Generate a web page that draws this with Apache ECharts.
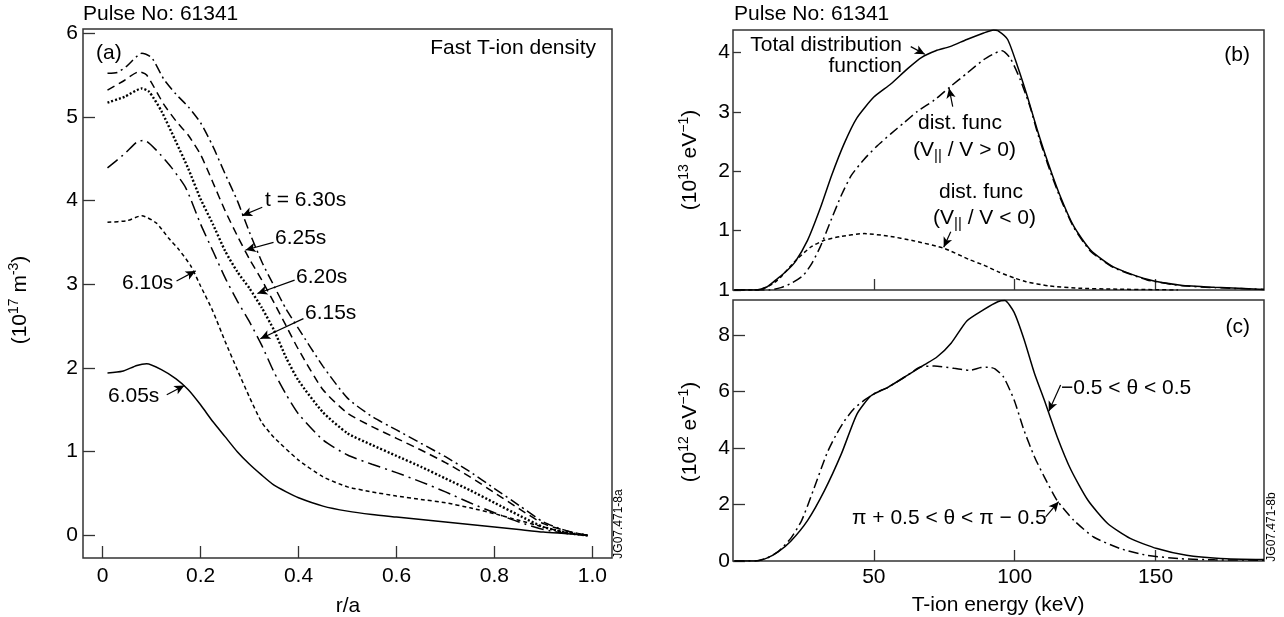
<!DOCTYPE html>
<html><head><meta charset="utf-8">
<script src="https://cdn.jsdelivr.net/npm/echarts@6/dist/echarts.min.js"></script>
<style>html,body{margin:0;padding:0;background:#fff}#c{width:1284px;height:617px}</style>
</head><body><div id="c"></div>
<script>
// ---------- DATA ----------
// Panel (a): fast T-ion density (10^17 m^-3) vs r/a
const t605 = [[0.01,1.94],[0.04,1.96],[0.07,2.03],[0.09,2.05],[0.12,1.98],[0.15,1.87],[0.175,1.74],[0.2,1.56],[0.225,1.36],[0.25,1.18],[0.275,1.0],[0.3,0.85],[0.325,0.72],[0.35,0.6],[0.375,0.52],[0.4,0.45],[0.45,0.35],[0.5,0.29],[0.55,0.25],[0.6,0.22],[0.65,0.19],[0.7,0.16],[0.75,0.13],[0.8,0.1],[0.85,0.07],[0.9,0.04],[0.95,0.02],[0.99,0.0]];
const t610 = [[0.01,3.74],[0.05,3.76],[0.08,3.82],[0.11,3.73],[0.135,3.55],[0.155,3.42],[0.18,3.22],[0.2,2.98],[0.225,2.68],[0.25,2.32],[0.275,1.98],[0.3,1.65],[0.325,1.35],[0.35,1.17],[0.4,0.9],[0.45,0.7],[0.5,0.58],[0.55,0.52],[0.6,0.47],[0.65,0.43],[0.7,0.39],[0.75,0.33],[0.8,0.26],[0.85,0.18],[0.9,0.1],[0.95,0.03],[0.99,0.0]];
const t615 = [[0.01,4.39],[0.045,4.56],[0.07,4.7],[0.085,4.72],[0.11,4.6],[0.14,4.4],[0.17,4.15],[0.2,3.72],[0.225,3.4],[0.25,3.08],[0.275,2.8],[0.3,2.55],[0.325,2.27],[0.35,1.95],[0.375,1.68],[0.4,1.45],[0.45,1.14],[0.5,0.96],[0.55,0.85],[0.6,0.75],[0.65,0.64],[0.7,0.52],[0.75,0.39],[0.8,0.27],[0.85,0.16],[0.9,0.07],[0.95,0.02],[0.99,0.0]];
const t620 = [[0.01,5.17],[0.045,5.24],[0.08,5.34],[0.095,5.3],[0.12,5.07],[0.15,4.7],[0.175,4.38],[0.2,4.02],[0.225,3.72],[0.25,3.4],[0.275,3.15],[0.3,2.95],[0.325,2.72],[0.35,2.45],[0.375,2.12],[0.4,1.85],[0.45,1.47],[0.5,1.22],[0.55,1.08],[0.6,0.95],[0.65,0.82],[0.7,0.68],[0.75,0.54],[0.8,0.39],[0.85,0.24],[0.9,0.1],[0.95,0.03],[0.99,0.0]];
const t625 = [[0.01,5.32],[0.04,5.42],[0.075,5.54],[0.09,5.5],[0.125,5.15],[0.15,4.95],[0.175,4.78],[0.2,4.55],[0.225,4.22],[0.25,3.88],[0.275,3.58],[0.3,3.3],[0.325,3.05],[0.35,2.78],[0.375,2.5],[0.4,2.22],[0.45,1.74],[0.5,1.46],[0.55,1.3],[0.6,1.16],[0.65,1.02],[0.7,0.87],[0.75,0.7],[0.8,0.51],[0.85,0.32],[0.9,0.14],[0.95,0.05],[0.99,0.0]];
const t630 = [[0.01,5.52],[0.03,5.53],[0.05,5.61],[0.08,5.76],[0.1,5.71],[0.125,5.45],[0.15,5.27],[0.175,5.12],[0.2,4.93],[0.225,4.65],[0.25,4.32],[0.275,4.0],[0.3,3.62],[0.325,3.27],[0.35,2.98],[0.375,2.7],[0.4,2.47],[0.45,2.02],[0.5,1.64],[0.55,1.42],[0.6,1.26],[0.65,1.1],[0.7,0.94],[0.75,0.76],[0.8,0.56],[0.85,0.36],[0.9,0.16],[0.95,0.05],[0.99,0.0]];

// Panel (b): distribution functions (10^13 eV^-1) vs T-ion energy (keV)
const bTotal = [[0.5,0],[8,0],[12,0.05],[16,0.2],[19,0.32],[22,0.47],[26.5,0.84],[31,1.38],[35,1.93],[39.5,2.47],[44,2.9],[50,3.25],[56,3.47],[62,3.73],[67,3.92],[72,4.03],[77,4.1],[83,4.22],[89,4.33],[92.5,4.38],[94,4.37],[97.5,4.22],[101,3.77],[104.5,3.26],[108,2.7],[111.5,2.19],[116,1.6],[121,1.07],[127,0.67],[135,0.39],[147,0.18],[159,0.08],[171,0.045],[188.5,0.01]];
const bPos = [[0.5,0],[13,0],[17,0.04],[21,0.12],[25,0.25],[28,0.45],[31,0.73],[35,1.2],[38.5,1.6],[42,1.93],[46.5,2.2],[51,2.42],[56,2.63],[60.5,2.81],[65.5,3.01],[71.5,3.2],[77,3.42],[83,3.65],[89,3.88],[93,3.99],[95.5,4.03],[98.5,3.9],[102,3.54],[105.5,3.08],[108,2.66],[111.5,2.15],[116,1.57],[121,1.05],[127,0.65],[135,0.38],[147,0.17],[159,0.075],[171,0.04],[188.5,0.01]];
const bNeg = [[0.5,0],[9,0],[11,0.03],[14,0.1],[17,0.22],[20,0.38],[23,0.53],[27.5,0.72],[32,0.83],[38,0.9],[46.5,0.95],[55,0.91],[64,0.83],[75,0.7],[84,0.51],[89,0.42],[94,0.31],[100,0.2],[104,0.14],[112,0.07],[123,0.03],[135,0.015],[150,0.005],[158,0]];

// Panel (c): (10^12 eV^-1) vs T-ion energy (keV)
const cFwd = [[0.5,0],[8,0],[12,0.1],[16,0.32],[20.5,0.7],[26.5,1.44],[32.5,2.5],[38.5,3.8],[44,5.2],[49,5.85],[55,6.15],[62,6.58],[68,6.95],[72.5,7.23],[77.5,7.72],[83,8.5],[89,8.9],[94,9.18],[96.5,9.22],[99.8,8.8],[103.3,7.85],[107,6.65],[110.5,5.7],[115,4.42],[120,3.22],[126,2.15],[133,1.33],[141,0.8],[150.5,0.44],[161,0.2],[173,0.09],[188.5,0.05]];
const cBwd = [[0.5,0],[8,0],[12,0.1],[16,0.33],[20.5,0.8],[24.4,1.44],[28.5,2.5],[33.3,3.8],[36.5,4.45],[39.5,4.95],[43,5.4],[47,5.72],[51,5.97],[55,6.15],[62,6.58],[66.5,6.87],[71.5,6.9],[78.5,6.82],[84,6.75],[88,6.85],[91,6.86],[93,6.8],[96,6.52],[99.8,5.7],[103.3,4.63],[107,3.69],[110.5,2.98],[115,2.15],[121,1.44],[128,0.85],[137.5,0.44],[147,0.2],[159,0.08],[171,0.04],[188.5,0.03]];

// Ticks
const xTicksA = [0, 0.2, 0.4, 0.6, 0.8, 1.0];
const yTicksA = [0, 1, 2, 3, 4, 5, 6];
const xTicksBC = [50, 100, 150];
const yTicksB = [0, 1, 2, 3, 4];
const yLabelsB = ['1', '1', '2', '3', '4'];
const yTicksC = [0, 2, 4, 6, 8];

// ---------- CHART ----------
const FONT = '"Liberation Sans", Arial, sans-serif';
const FS = 21;
const chart = echarts.init(document.getElementById('c'), null, {renderer: 'canvas'});

function line(data, xi, dash, width) {
  return {
    type: 'line', data: data, xAxisIndex: xi, yAxisIndex: xi,
    showSymbol: false, smooth: 0.2, silent: true,
    lineStyle: {color: '#000', width: width || 1.5, type: dash || 'solid'},
    emphasis: {disabled: true}
  };
}
function arrows(pairs) {
  return {
    silent: true, symbol: ['none', 'arrow'], symbolSize: [7, 10],
    lineStyle: {color: '#000', width: 1.2, type: 'solid'},
    label: {show: false}, emphasis: {disabled: true},
    data: pairs.map(p => [{coord: p[0]}, {coord: p[1]}])
  };
}
const tickStyle = {color: '#333', width: 1.3};
const lblStyle = {fontSize: FS, color: '#000', fontFamily: FONT};
const noLine = {show: false, onZero: false};

const sA = [
  line(t605, 0, 'solid'),
  line(t610, 0, [4, 3]),
  line(t615, 0, [13, 5, 2, 5]),
  line(t620, 0, [2, 2], 2.4),
  line(t625, 0, [8, 5]),
  line(t630, 0, [10, 4, 2, 4])
];
sA[0].markLine = arrows([
  [[0.326, 3.92], [0.285, 3.82]],
  [[0.349, 3.50], [0.292, 3.41]],
  [[0.392, 3.05], [0.316, 2.89]],
  [[0.41, 2.59], [0.322, 2.35]],
  [[0.151, 3.04], [0.19, 3.16]],
  [[0.131, 1.68], [0.167, 1.79]]
]);
const sB = [line(bTotal, 1, 'solid'), line(bPos, 1, [10, 4, 2, 4]), line(bNeg, 1, [4, 3])];
sB[0].markLine = arrows([
  [[63.1, 4.10], [68.1, 3.97]],
  [[78, 3.09], [76.7, 3.40]],
  [[77.3, 0.98], [74.8, 0.72]]
]);
const sC = [line(cFwd, 2, 'solid'), line(cBwd, 2, [10, 4, 2, 4])];
sC[0].markLine = arrows([
  [[116.3, 6.23], [112.1, 5.30]],
  [[111, 1.56], [115.6, 2.1]]
]);

function txt(x, y, text, opts) {
  opts = opts || {};
  const st = {
    text: text, fill: '#000',
    font: (opts.size || FS) + 'px ' + FONT,
    fontSize: opts.size || FS, fontFamily: FONT,
    textAlign: opts.align || 'left', align: opts.align || 'left',
    textVerticalAlign: 'middle', verticalAlign: 'middle'
  };
  if (opts.rich) st.rich = opts.rich;
  const el = {type: 'text', x: x, y: y, silent: true, style: st};
  if (opts.rot) el.rotation = opts.rot;
  return el;
}
const supRich = {
  n: {fontSize: FS, fontFamily: FONT, fill: '#000'},
  sup: {fontSize: 14, fontFamily: FONT, fill: '#000', padding: [0, 0, 11, 0]},
  sub: {fontSize: 15, fontFamily: FONT, fill: '#000', padding: [11, 0, 0, 0]}
};

const option = {
  animation: false,
  backgroundColor: '#fff',
  grid: [
    {left: 83, top: 29, width: 529, height: 529, show: true, borderColor: '#333', borderWidth: 1.5, containLabel: false},
    {left: 733, top: 30, width: 531, height: 260, show: true, borderColor: '#333', borderWidth: 1.5, containLabel: false},
    {left: 733, top: 300, width: 531, height: 261, show: true, borderColor: '#333', borderWidth: 1.5, containLabel: false}
  ],
  xAxis: [
    {gridIndex: 0, type: 'value', min: -0.04, max: 1.04, position: 'bottom',
     axisLine: noLine, splitLine: {show: false},
     axisTick: {show: true, inside: true, length: 12, lineStyle: tickStyle, customValues: xTicksA},
     axisLabel: Object.assign({customValues: xTicksA, margin: 8, formatter: v => v === 0 ? '0' : v.toFixed(1)}, lblStyle)},
    {gridIndex: 1, type: 'value', min: 0, max: 188.5, position: 'bottom',
     axisLine: noLine, splitLine: {show: false},
     axisTick: {show: true, inside: true, length: 11, lineStyle: tickStyle, customValues: xTicksBC},
     axisLabel: {show: false}},
    {gridIndex: 2, type: 'value', min: 0, max: 188.5, position: 'bottom',
     axisLine: noLine, splitLine: {show: false},
     axisTick: {show: true, inside: true, length: 11, lineStyle: tickStyle, customValues: xTicksBC},
     axisLabel: Object.assign({customValues: xTicksBC, margin: 6, formatter: v => String(v)}, lblStyle)}
  ],
  yAxis: [
    {gridIndex: 0, type: 'value', min: -0.27, max: 6.05, position: 'left',
     axisLine: noLine, splitLine: {show: false},
     axisTick: {show: true, inside: true, length: 12, lineStyle: tickStyle, customValues: yTicksA},
     axisLabel: Object.assign({customValues: yTicksA, margin: 5, formatter: v => String(v)}, lblStyle)},
    {gridIndex: 1, type: 'value', min: 0, max: 4.38, position: 'left',
     axisLine: noLine, splitLine: {show: false},
     axisTick: {show: true, inside: true, length: 8, lineStyle: tickStyle, customValues: yTicksB},
     axisLabel: Object.assign({customValues: yTicksB, margin: 3, formatter: v => yLabelsB[yTicksB.indexOf(v)]}, lblStyle)},
    {gridIndex: 2, type: 'value', min: 0, max: 9.24, position: 'left',
     axisLine: noLine, splitLine: {show: false},
     axisTick: {show: true, inside: true, length: 12, lineStyle: tickStyle, customValues: yTicksC},
     axisLabel: Object.assign({customValues: yTicksC, margin: 3, formatter: v => String(v)}, lblStyle)}
  ],
  series: sA.concat(sB, sC),
  graphic: [
    txt(83, 14, 'Pulse No: 61341', {size: 21}),
    txt(734, 14, 'Pulse No: 61341', {size: 21}),
    txt(96, 53, '(a)'),
    txt(596, 48, 'Fast T-ion density', {align: 'right'}),
    txt(265, 200, 't = 6.30s'),
    txt(275, 238, '6.25s'),
    txt(296, 277, '6.20s'),
    txt(305, 313, '6.15s'),
    txt(122, 283, '6.10s'),
    txt(108, 396, '6.05s'),
    txt(348, 606, 'r/a', {align: 'center'}),
    txt(998, 605, 'T-ion energy (keV)', {align: 'center'}),
    txt(1250, 55, '(b)', {align: 'right'}),
    txt(1250, 327, '(c)', {align: 'right'}),
    txt(902, 45, 'Total distribution', {align: 'right'}),
    txt(902, 66, 'function', {align: 'right'}),
    txt(918, 123, 'dist. func'),
    txt(913, 150, '{n|(V}{sub|||}{n| / V > 0)}', {rich: supRich}),
    txt(939, 192, 'dist. func'),
    txt(933, 218, '{n|(V}{sub|||}{n| / V < 0)}', {rich: supRich}),
    txt(1061, 388, '\u22120.5 < \u03b8 < 0.5'),
    txt(852, 518, '\u03c0 + 0.5 < \u03b8 < \u03c0 \u2212 0.5'),
    txt(20, 300, '{n|(10}{sup|17}{n| m}{sup|-3}{n|)}', {align: 'center', rich: supRich, rot: Math.PI / 2}),
    txt(690, 160, '{n|(10}{sup|13}{n| eV}{sup|\u22121}{n|)}', {align: 'center', rich: supRich, rot: Math.PI / 2}),
    txt(690, 432, '{n|(10}{sup|12}{n| eV}{sup|\u22121}{n|)}', {align: 'center', rich: supRich, rot: Math.PI / 2}),
    txt(619, 524, 'JG07.471-8a', {align: 'center', size: 12, rot: Math.PI / 2}),
    txt(1272, 527, 'JG07.471-8b', {align: 'center', size: 12, rot: Math.PI / 2})
  ]
};
chart.setOption(option);
</script>
</body></html>
